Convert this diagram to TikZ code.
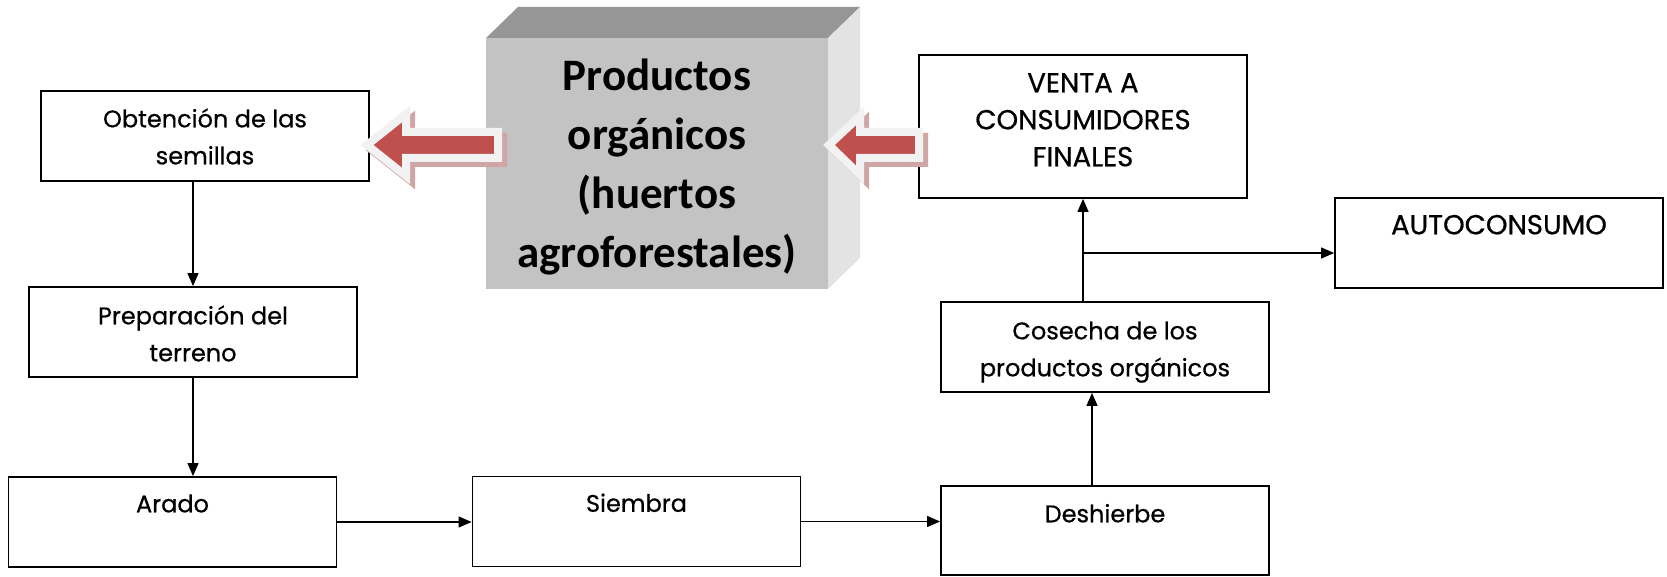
\documentclass[tikz,border=0pt]{standalone}
\usepackage{fontspec}
\setmainfont{Poppins}
\newfontfamily\boxfont{Poppins}[FakeBold=0.6]
\newfontfamily\titlefont{Carlito}
\usetikzlibrary{arrows.meta}
\definecolor{arrred}{HTML}{C0504D}
\definecolor{arrrim}{HTML}{F2F2F2}
\definecolor{arrshadow}{HTML}{CFA5A5}
\definecolor{topface}{HTML}{969696}
\definecolor{frontface}{HTML}{C3C3C3}
\definecolor{sideface}{HTML}{E3E3E3}
\newcommand\lblstrut{\rule{0pt}{26pt}}
\newcommand\ttlstrut{\rule{0pt}{42pt}}
\begin{document}
\begin{tikzpicture}[x=1pt,y=-1pt,
  box/.style={draw=black, line width=1.8pt, minimum width=328pt, minimum height=90pt, inner sep=0pt, fill=white},
  lbl/.style={inner sep=0pt, anchor=north, align=center, font=\boxfont\fontsize{24}{37}\selectfont},
  caplbl/.style={lbl, font=\boxfont\fontsize{27.5}{37}\selectfont},
  conn/.style={line width=1.2pt, -{Triangle[length=13pt,width=11pt]}},
  fatarrow/.style={fill=arrred, draw=arrrim, line width=8pt, line join=miter},
  fatshadow/.style={fill=arrshadow, draw=arrshadow, line width=8pt, line join=miter}]
\useasboundingbox (0,0) rectangle (1667,577);

% 3D box
\fill[topface] (486,38) -- (518,7) -- (860,7) -- (828,38) -- cycle;
\fill[sideface] (828,38) -- (860,7) -- (860,258) -- (828,289) -- cycle;
\fill[frontface] (486,38) rectangle (828,289);
\node[inner sep=0pt, anchor=north, align=center, font=\titlefont\bfseries\fontsize{45}{59}\selectfont] (title) at (657,48)
  {\ttlstrut Productos\\orgánicos\\(huertos\\agroforestales)};

% boxes
\node[box] (obt) at (205,136) {};
\node[box] (prep) at (193,332) {};
\node[box] (arado) at (172.5,522) {};
\node[box] (siembra) at (636.5,521.5) {};
\node[box, minimum height=89pt] (desh) at (1105,530.5) {};
\node[box] (cos) at (1105,347) {};
\node[box, minimum height=143pt] (venta) at (1083,126.5) {};
\node[box] (auto) at (1499,243) {};

\node[lbl] (obtt) at ([yshift=-11pt]obt.north) {\lblstrut Obtención de las\\semillas};
\node[lbl] (prept) at ([yshift=-12pt]prep.north) {\lblstrut Preparación del\\terreno};
\node[lbl] (aradot) at ([yshift=-10pt]arado.north) {\lblstrut Arado};
\node[lbl] (siembrat) at ([yshift=-10pt]siembra.north) {\lblstrut Siembra};
\node[lbl] (desht) at ([yshift=-11pt]desh.north) {\lblstrut Deshierbe};
\node[lbl] (cost) at ([yshift=-12pt]cos.north) {\lblstrut Cosecha de los\\productos orgánicos};
\node[caplbl] (ventat) at ([yshift=-12pt]venta.north) {\lblstrut VENTA A\\CONSUMIDORES\\FINALES};
\node[caplbl] (autot) at ([yshift=-11pt]auto.north) {\lblstrut AUTOCONSUMO};

% red arrows
\begin{scope}[shift={(5,5)}]
\draw[fatshadow] (367,145) -- (406,114) -- (406,132) -- (498,132) -- (498,158) -- (406,158) -- (406,176) -- cycle;
\draw[fatshadow] (829,145) -- (860,116) -- (860,132) -- (919,132) -- (919,158) -- (860,158) -- (860,175) -- cycle;
\end{scope}
\draw[fatarrow] (367,145) -- (406,114) -- (406,132) -- (498,132) -- (498,158) -- (406,158) -- (406,176) -- cycle;
\draw[fatarrow] (829,145) -- (860,116) -- (860,132) -- (919,132) -- (919,158) -- (860,158) -- (860,175) -- cycle;

% connectors
\draw[conn] (prep.north |- obt.south) -- (prep.north);
\draw[conn] (prep.south) -- (prep.south |- arado.north);
\draw[conn] (arado.east) -- (arado.east -| siembra.west);
\draw[conn] (siembra.east) -- (siembra.east -| desh.west);
\coordinate (dc) at (1092,0);
\draw[conn] (dc |- desh.north) -- (dc |- cos.south);
\draw[conn] (venta.south |- cos.north) -- (venta.south);
\coordinate (br) at (1083,253);
\draw[conn] (br) -- (br -| auto.west);
\end{tikzpicture}
\end{document}
